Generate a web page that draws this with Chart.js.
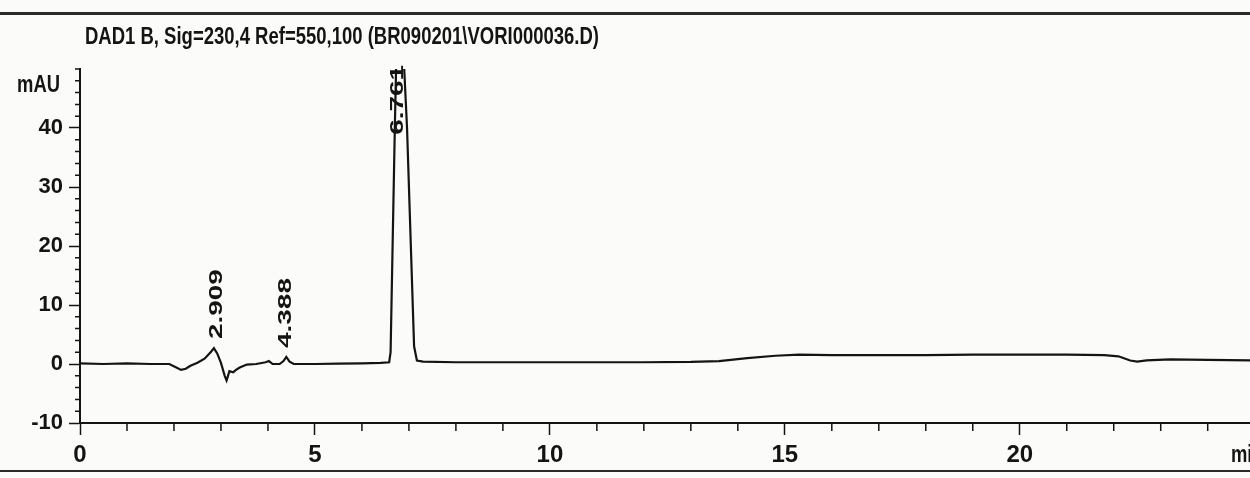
<!DOCTYPE html>
<html>
<head>
<meta charset="utf-8">
<script src="https://cdn.jsdelivr.net/npm/chart.js@4.4.1/dist/chart.umd.min.js"></script>
<style>
  html, body { margin: 0; padding: 0; background: #fbfbf9; }
  #wrap { width: 1250px; height: 478px; position: relative; }
</style>
</head>
<body>
<div id="wrap"><canvas id="chart"></canvas></div>
<script>
// DAD1 B chromatogram, 230 nm signal
var TITLE = 'DAD1 B, Sig=230,4 Ref=550,100 (BR090201\\VORI000036.D)';
var X_UNIT = 'min';
var Y_UNIT = 'mAU';

var TIME_MIN = [
  0, 0.5, 1.0, 1.5, 1.9, 2.05, 2.15, 2.25, 2.35, 2.5, 2.65, 2.78, 2.85, 2.92, 3.0,
  3.08, 3.12, 3.18, 3.26, 3.32, 3.4, 3.55, 3.75, 3.95, 4.02, 4.1, 4.25, 4.33, 4.39,
  4.46, 4.55, 5.0, 5.5, 6.0, 6.4, 6.58, 6.61, 6.7, 6.78, 6.96, 7.11, 7.17, 7.3,
  8, 9, 10, 11, 12, 13, 13.6, 14.2, 14.8, 15.3, 16, 17, 18, 19, 20, 21, 21.8,
  22.1, 22.35, 22.5, 22.7, 23.2, 24, 24.9
];
var SIGNAL_MAU = [
  0.1, 0, 0.1, 0, 0, -0.6, -1.0, -0.8, -0.3, 0.2, 0.9, 2.0, 2.7, 1.8, 0.2,
  -2.0, -2.8, -1.2, -1.4, -1.0, -0.6, -0.1, 0, 0.3, 0.5, 0, 0, 0.5, 1.2,
  0.4, 0, 0, 0.05, 0.1, 0.2, 0.3, 2, 40, 70, 40, 3, 0.6, 0.4,
  0.3, 0.3, 0.3, 0.3, 0.3, 0.35, 0.5, 1.0, 1.4, 1.6, 1.5, 1.5, 1.5, 1.6, 1.6, 1.6, 1.5,
  1.3, 0.6, 0.4, 0.6, 0.8, 0.7, 0.6
];

var PEAK_RT = [2.909, 4.388, 6.761];
var PEAK_LABELS = ['2.909', '4.388', '6.761'];
var PEAK_APEX = [2.7, 1.2, 70];

var X_TICKS = [0, 5, 10, 15, 20];
var Y_TICKS = [-10, 0, 10, 20, 30, 40];

var INK = '#141414';
var SANS = '"Liberation Sans", Arial, sans-serif';

var minorTicks = {
  id: 'minorTicks',
  afterDraw: function(chart) {
    var ctx = chart.ctx, xs = chart.scales.x, ys = chart.scales.y;
    ctx.save();
    ctx.strokeStyle = INK;
    ctx.lineWidth = 1.5;
    ctx.beginPath();
    for (var t = Math.ceil(xs.min); t <= xs.max; t++) {
      if (X_TICKS.indexOf(t) >= 0) continue;
      var px = xs.getPixelForValue(t);
      ctx.moveTo(px, xs.top);
      ctx.lineTo(px, xs.top + 8);
    }
    for (var v = ys.min; v <= ys.max; v += 2) {
      if (Y_TICKS.indexOf(v) >= 0) continue;
      var py = ys.getPixelForValue(v);
      ctx.moveTo(ys.right - 5, py);
      ctx.lineTo(ys.right, py);
    }
    ctx.stroke();
    ctx.restore();
  }
};

// draw text squeezed horizontally, like the narrow printer font
function narrowText(ctx, text, x, y, sx, align) {
  ctx.save();
  ctx.translate(x, y);
  ctx.scale(sx, 1);
  ctx.textAlign = align;
  ctx.fillText(text, 0, 0);
  ctx.restore();
}

var annotations = {
  id: 'annotations',
  afterDraw: function(chart) {
    var ctx = chart.ctx, area = chart.chartArea, xs = chart.scales.x, ys = chart.scales.y;
    ctx.save();

    // page rules of the printout
    ctx.fillStyle = '#2a2a2a';
    ctx.fillRect(0, area.top - 57, chart.width, 3);
    ctx.fillRect(0, chart.height - 8, chart.width, 2);

    ctx.fillStyle = INK;
    ctx.textBaseline = 'middle';
    ctx.font = 'bold 24px ' + SANS;
    var tw = ctx.measureText(TITLE).width;
    narrowText(ctx, TITLE, area.left + 5, area.top - 32, 514 / tw, 'left');

    ctx.font = 'bold 23px ' + SANS;
    narrowText(ctx, Y_UNIT, area.left - 20, area.top + 17, 0.8, 'right');
    narrowText(ctx, X_UNIT, area.right - 19, xs.top + 33, 0.8, 'left');

    // retention-time labels, rotated, just above each apex
    ctx.font = 'bold 18px ' + SANS;
    var stretch = 1.55;
    PEAK_RT.forEach(function(rt, i) {
      var px = xs.getPixelForValue(rt);
      var py = ys.getPixelForValue(PEAK_APEX[i]) - 9;
      var w = ctx.measureText(PEAK_LABELS[i]).width * stretch;
      if (py - w < area.top - 4) py = area.top - 4 + w;
      ctx.save();
      ctx.translate(px, py);
      ctx.rotate(-Math.PI / 2);
      ctx.scale(stretch, 1);
      ctx.textAlign = 'left';
      ctx.textBaseline = 'middle';
      ctx.fillText(PEAK_LABELS[i], 0, 0);
      ctx.restore();
    });
    ctx.restore();
  }
};

var points = TIME_MIN.map(function(t, i) { return { x: t, y: SIGNAL_MAU[i] }; });

new Chart(document.getElementById('chart'), {
  type: 'line',
  data: {
    datasets: [{
      data: points,
      borderColor: INK,
      borderWidth: 2.2,
      pointRadius: 0,
      tension: 0,
      fill: false
    }]
  },
  options: {
    responsive: true,
    maintainAspectRatio: false,
    animation: false,
    layout: { padding: { top: 69, right: 0, bottom: 0, left: 0 } },
    plugins: { legend: { display: false }, tooltip: { enabled: false } },
    scales: {
      x: {
        type: 'linear',
        min: 0,
        max: 24.9,
        afterFit: function(s) { s.height = 55; },
        border: { color: INK, width: 2 },
        grid: { drawOnChartArea: false, tickLength: 12, tickWidth: 1.5, tickColor: INK },
        ticks: {
          stepSize: 5,
          includeBounds: false,
          autoSkip: false,
          maxRotation: 0,
          padding: 6,
          color: INK,
          font: { family: SANS, size: 24, weight: 'bold' },
          callback: function(v) { return X_TICKS.indexOf(v) >= 0 ? v : ''; }
        }
      },
      y: {
        min: -10,
        max: 50,
        afterFit: function(s) { s.width = 80; },
        border: { color: INK, width: 2 },
        grid: {
          drawOnChartArea: false,
          tickLength: 11,
          tickWidth: 1.5,
          tickColor: function(c) { return Y_TICKS.indexOf(c.tick.value) >= 0 ? INK : 'rgba(0,0,0,0)'; }
        },
        ticks: {
          stepSize: 10,
          includeBounds: false,
          padding: 6,
          color: INK,
          font: { family: SANS, size: 22, weight: 'bold' },
          callback: function(v) { return Y_TICKS.indexOf(v) >= 0 ? v : ''; }
        }
      }
    }
  },
  plugins: [minorTicks, annotations]
});
</script>
</body>
</html>
